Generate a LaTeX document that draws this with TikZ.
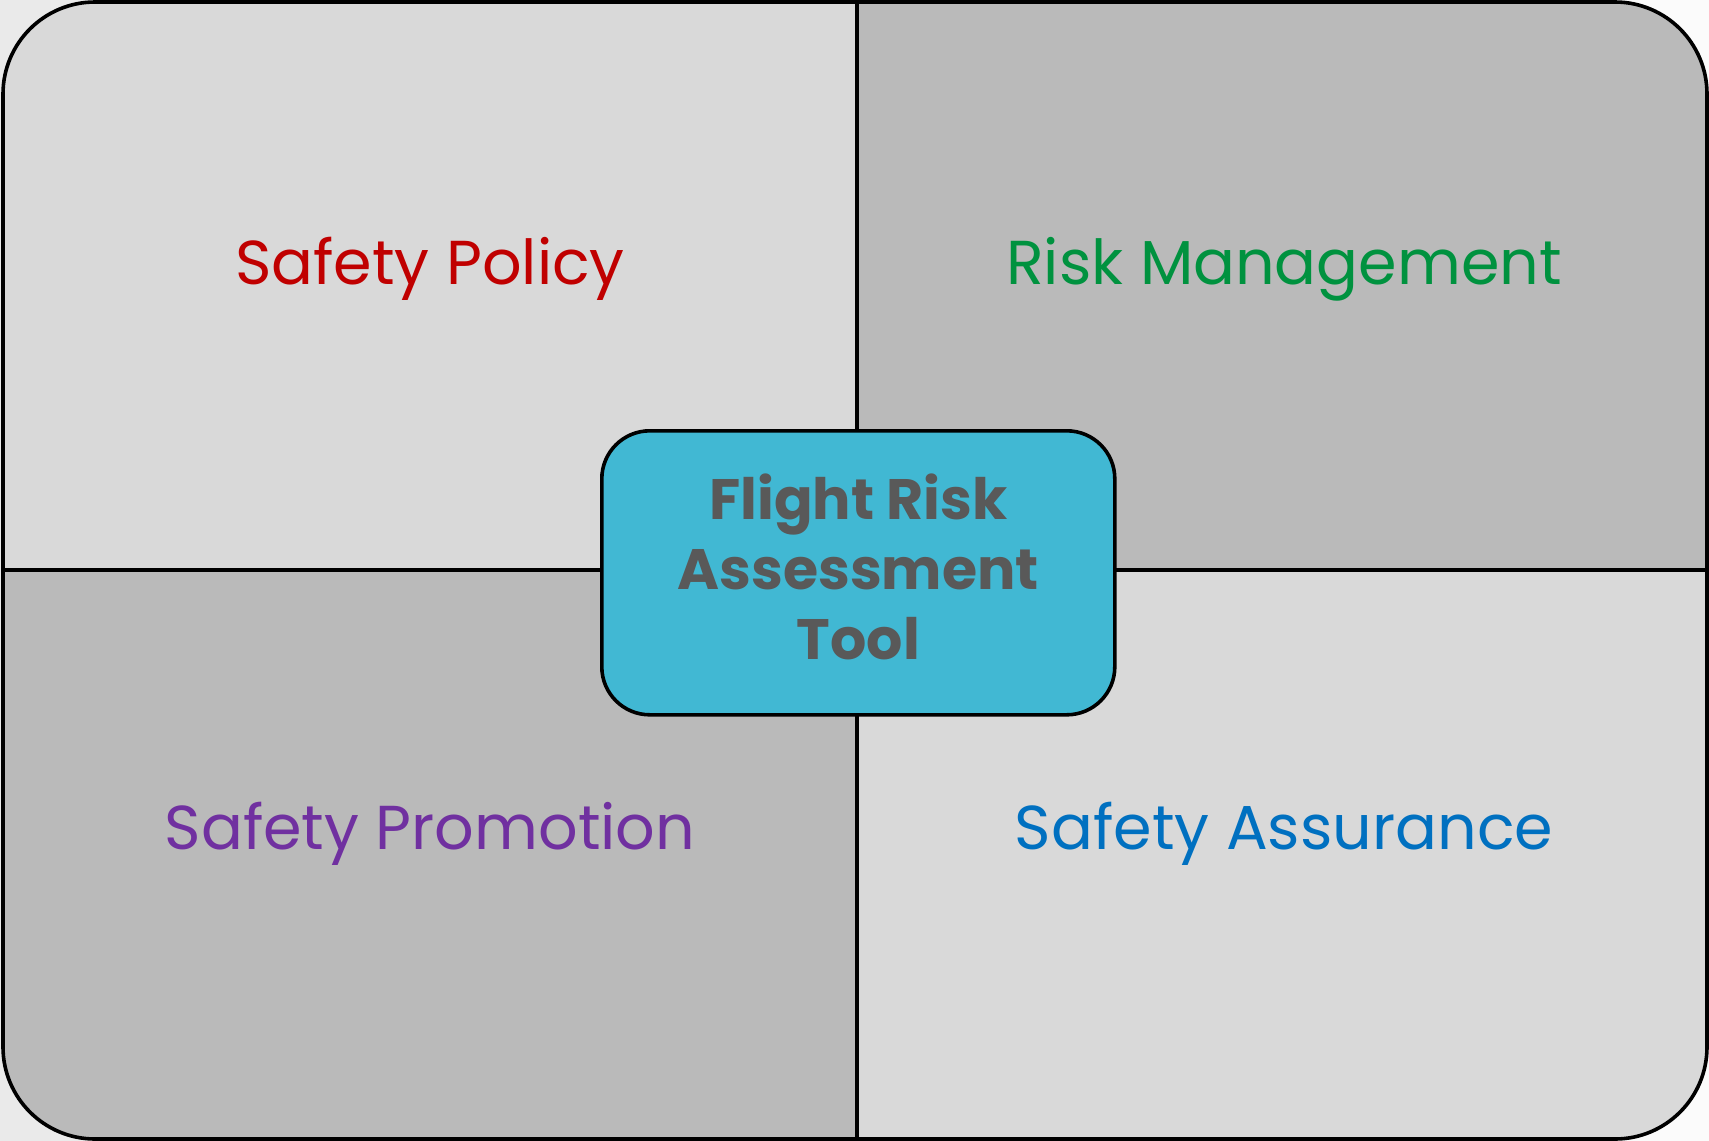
\documentclass[tikz,border=0pt]{standalone}
\usepackage{fontspec}
\setmainfont{Poppins}
\begin{document}
\definecolor{pagebgA}{HTML}{EAEAEA}
\definecolor{pagebgB}{HTML}{FBFBFB}
\definecolor{quadlight}{HTML}{D9D9D9}
\definecolor{quaddark}{HTML}{BABABA}
\definecolor{hubfill}{HTML}{41B8D3}
\definecolor{hubtext}{HTML}{595959}
\definecolor{policyred}{HTML}{C00000}
\definecolor{riskgreen}{HTML}{00923F}
\definecolor{promopurple}{HTML}{7030A0}
\definecolor{assureblue}{HTML}{0070C0}
\begin{tikzpicture}[x=1pt,y=-1pt,
  frame/.style={line width=3.6pt,draw=black},
  divider/.style={line width=3.4pt,draw=black},
  quadlabel/.style={font=\fontsize{62}{70}\selectfont,anchor=base,inner sep=0pt},
  hub/.style={draw=black,line width=3.6pt,fill=hubfill,rounded corners=48pt,
    minimum width=513pt,minimum height=284pt,anchor=north west,inner sep=0pt},
  hubtitle/.style={align=center,text=hubtext,inner sep=0pt,
    font=\fontsize{57}{70}\selectfont\bfseries}]
  % page background
  \shade[left color=pagebgA,right color=pagebgB] (0,0) rectangle (1709,1141);
  \useasboundingbox (0,0) rectangle (1709,1141);
  % four quadrants clipped to the rounded frame
  \begin{scope}
    \clip[rounded corners=92pt] (3,2) rectangle (1707,1139);
    \fill[quadlight] (3,2) rectangle (857,570);
    \fill[quaddark] (857,2) rectangle (1707,570);
    \fill[quaddark] (3,570) rectangle (857,1139);
    \fill[quadlight] (857,570) rectangle (1707,1139);
  \end{scope}
  \coordinate (top) at (857,2);
  \coordinate (bottom) at (857,1139);
  \coordinate (left) at (3,570);
  \coordinate (right) at (1707,570);
  \draw[divider] (top) -- (bottom);
  \draw[divider] (left) -- (right);
  \draw[frame,rounded corners=92pt] (3,2) rectangle (1707,1139);
  % quadrant titles
  \node[quadlabel,text=policyred] (policy) at (430,284) {Safety Policy};
  \node[quadlabel,text=riskgreen] (risk) at (1284,284) {Risk Management};
  \node[quadlabel,text=promopurple] (promo) at (430,849) {Safety Promotion};
  \node[quadlabel,text=assureblue] (assure) at (1284,849) {Safety Assurance};
  % central hub
  \node[hub] (hubbox) at (600,429) {};
  \node[hubtitle] (hubtext) at ([yshift=6pt]hubbox.center) {Flight Risk\\Assessment\\Tool};
\end{tikzpicture}
\end{document}
